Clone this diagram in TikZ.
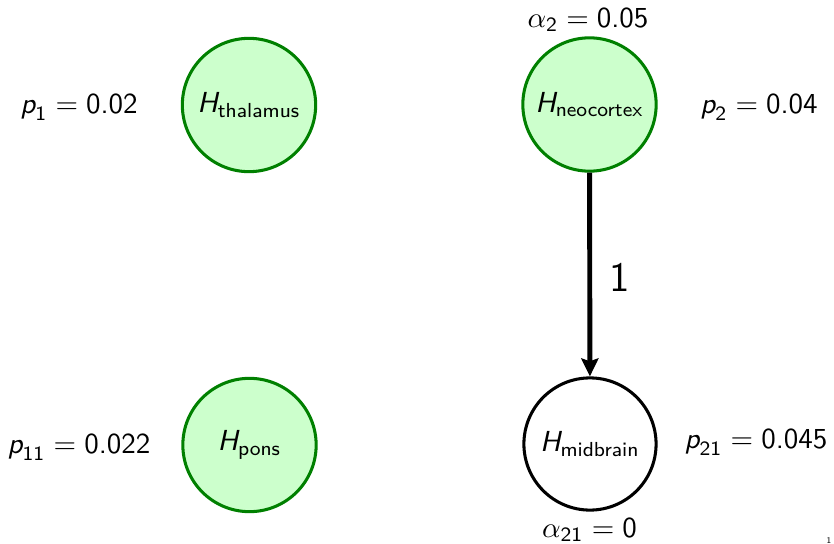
\documentclass[tikz,border=0pt]{standalone}
\usepackage{amsmath}
\usetikzlibrary{arrows.meta}
\definecolor{dkgreen}{RGB}{0,128,0}
\definecolor{ltgreen}{RGB}{204,255,204}
\newcommand{\sv}[1]{\textsf{\itshape #1}}
\newcommand{\sn}[1]{\textsf{\upshape #1}}
\newcommand{\bigfont}{\fontsize{10}{12}\selectfont\sffamily}
\tikzset{
  greennode/.style={circle, draw=dkgreen, fill=ltgreen, line width=1.05pt, inner sep=0pt, minimum size=46pt, font=\bigfont},
  plainnode/.style={circle, draw=black, fill=white, line width=1.05pt, inner sep=0pt, minimum size=45.6pt, font=\bigfont},
  lab/.style={font=\bigfont, anchor=base, inner sep=0pt},
  conn/.style={-{Stealth[length=6.2pt,width=5.9pt,inset=1pt]}, line width=1.7pt}
}
\begin{document}
\begin{tikzpicture}[x=0.345pt,y=-0.345pt]
\useasboundingbox (0,0) rectangle (834,544);
\node[greennode] (thal) at (249,105) {$\sv{H}_{\sn{thalamus}}$};
\node[greennode] (neo) at (589.5,104.5) {$\sv{H}_{\sn{neocortex}}$};
\node[greennode] (pons) at (249.5,445) {$\sv{H}_{\sn{pons}}$};
\node[plainnode] (mid) at (590,444) {$\sv{H}_{\sn{midbrain}}$};
\draw[conn] (neo) -- (mid) node[midway, anchor=west, inner sep=0pt, xshift=5.9pt, yshift=-1pt, font=\Large\sffamily] (w) {1};
\node[lab] (p1) at (79,113) {$\sv{p}_{\sn{1}} = \sn{0.02}$};
\node[lab] (p2) at (759,113) {$\sv{p}_{\sn{2}} = \sn{0.04}$};
\node[lab] (p11) at (79,453) {$\sv{p}_{\sn{11}} = \sn{0.022}$};
\node[lab] (p21) at (756,448) {$\sv{p}_{\sn{21}} = \sn{0.045}$};
\node[lab] (a2) at (588,27) {$\alpha_{\sn{2}} = \sn{0.05}$};
\node[lab] (a21) at (589.5,537) {$\alpha_{\sn{21}} = \sn{0}$};
\node[font=\fontsize{3}{4}\selectfont\sffamily, anchor=base, inner sep=0pt] (pg) at (829,543) {1};
\end{tikzpicture}
\end{document}
